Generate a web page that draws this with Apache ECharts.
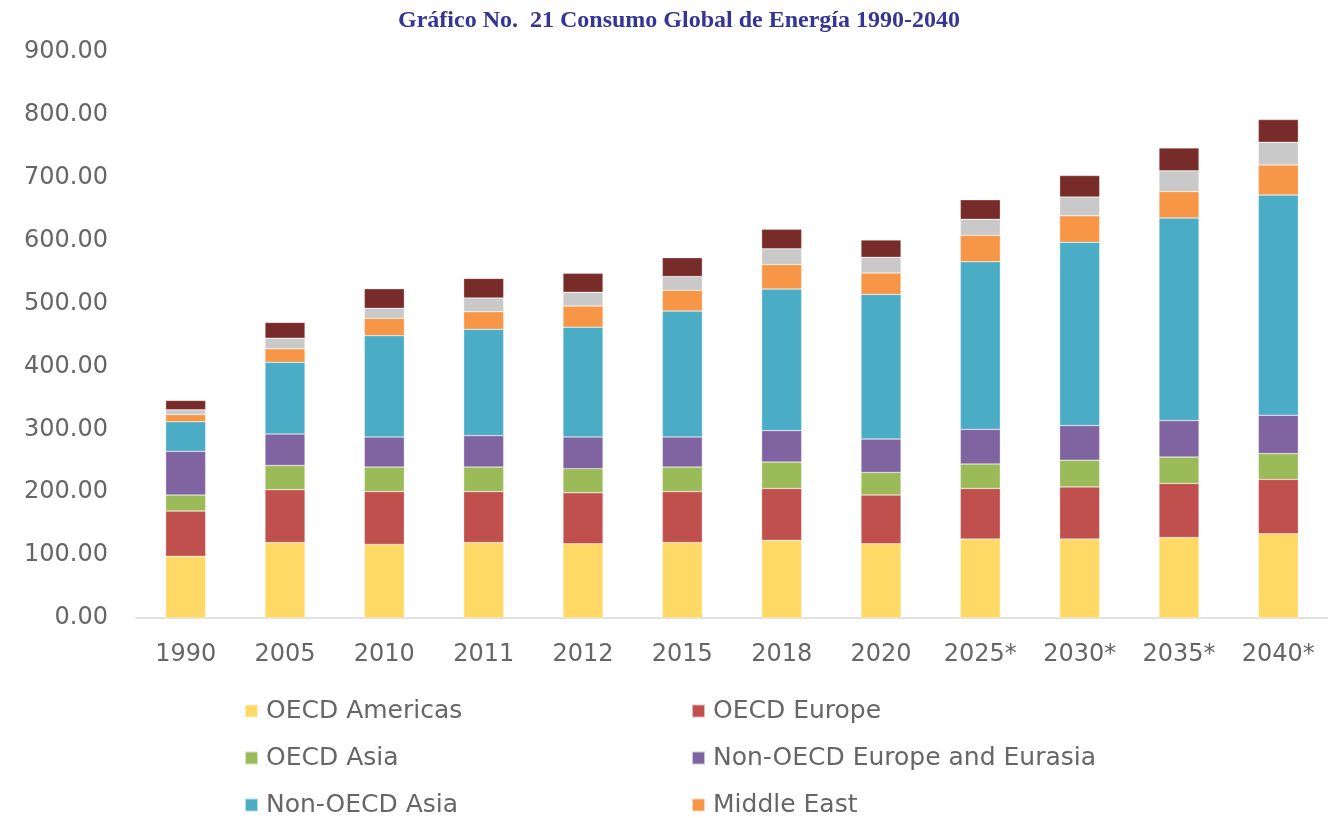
<!DOCTYPE html>
<html>
<head>
<meta charset="utf-8">
<script src="https://cdn.jsdelivr.net/npm/echarts@6/dist/echarts.min.js"></script>
<style>
  html, body { margin: 0; padding: 0; background: #fff; }
  #chart { width: 1328px; height: 818px; }
</style>
</head>
<body>
<div id="chart"></div>
<script>
// categories (asterisk = projection)
const years = ['1990', '2005', '2010', '2011', '2012', '2015', '2018', '2020', '2025*', '2030*', '2035*', '2040*'];

// values, stacked bottom to top
const oecdAmericas    = [98, 120, 117, 120, 118, 120, 123.5, 118, 125.5, 125.5, 128, 134];
const oecdEurope      = [72, 84, 84, 81, 81, 81, 82.5, 77.5, 80.5, 83, 86, 86.5];
const oecdAsia        = [25.5, 38.5, 39, 39, 38.5, 39, 42, 36, 39, 42.5, 42, 41];
const nonOecdEurasia  = [69.5, 50, 48, 50, 50.5, 48, 50, 53, 55, 55, 58, 61];
const nonOecdAsia     = [47, 114, 161, 169, 174.5, 200, 225, 230, 266.5, 291.5, 322, 350];
const middleEast      = [11.5, 21.5, 27.5, 28, 33.5, 33, 39, 34, 42, 42, 42, 48];
const africa          = [7.5, 17, 16, 22, 22, 22, 25, 25, 25.5, 30, 33, 36];
const nonOecdAmericas = [15, 25, 31, 31, 30, 30, 31, 27.5, 31, 34, 36.5, 36];

const yTicks = { min: 0, max: 900, interval: 100 };

const seriesList = [
    { name: 'OECD Americas', data: oecdAmericas, color: '#FFD966' },
    { name: 'OECD Europe', data: oecdEurope, color: '#C0504D' },
    { name: 'OECD Asia', data: oecdAsia, color: '#9BBB59' },
    { name: 'Non-OECD Europe and Eurasia', data: nonOecdEurasia, color: '#8064A2' },
    { name: 'Non-OECD Asia', data: nonOecdAsia, color: '#4BACC6' },
    { name: 'Middle East', data: middleEast, color: '#F79646' },
    { name: 'Africa', data: africa, color: '#C9C9C9' },
    { name: 'Non-OECD Americas', data: nonOecdAmericas, color: '#772C2A' },
];

const font = 'DejaVu Sans';
const grey = '#666666';

function legendColumn(left, names) {
    return {
        orient: 'vertical',
        left: left,
        top: 693,
        height: 300,
        itemWidth: 13,
        itemHeight: 13,
        itemGap: 21,
        icon: 'rect',
        data: names,
        textStyle: { fontFamily: font, fontSize: 25, color: grey, lineHeight: 26, padding: [0, 0, 0, 3] },
    };
}

const chart = echarts.init(document.getElementById('chart'));
chart.setOption({
    animation: false,
    title: {
        text: 'Gráfico No.  21 Consumo Global de Energía 1990-2040',
        left: 674,
        textAlign: 'center',
        top: 4,
        textStyle: { fontFamily: 'Liberation Serif', fontWeight: 'bold', fontSize: 24, color: '#353595' },
    },
    legend: [
        legendColumn(239, ['OECD Americas', 'OECD Asia', 'Non-OECD Asia', 'Africa']),
        legendColumn(686, ['OECD Europe', 'Non-OECD Europe and Eurasia', 'Middle East', 'Non-OECD Americas']),
    ],
    grid: { left: 136, right: -3, top: 52, bottom: 200, containLabel: false },
    xAxis: {
        type: 'category',
        data: years,
        axisLine: { lineStyle: { color: '#D9D9D9', width: 1.5 } },
        axisTick: { show: false },
        axisLabel: { fontFamily: font, fontSize: 24, color: grey, margin: 25 },
    },
    yAxis: {
        type: 'value',
        min: yTicks.min,
        max: yTicks.max,
        interval: yTicks.interval,
        axisLine: { show: false },
        axisTick: { show: false },
        splitLine: { show: false },
        axisLabel: {
            fontFamily: font, fontSize: 24, color: grey, margin: 28,
            formatter: v => v.toFixed(2),
        },
    },
    series: seriesList.map(s => ({
        type: 'bar',
        name: s.name,
        stack: 'total',
        barWidth: 40,
        data: s.data,
        itemStyle: { color: s.color, borderColor: 'rgba(255,255,255,0.6)', borderWidth: 0.5 },
    })),
});
</script>
</body>
</html>
